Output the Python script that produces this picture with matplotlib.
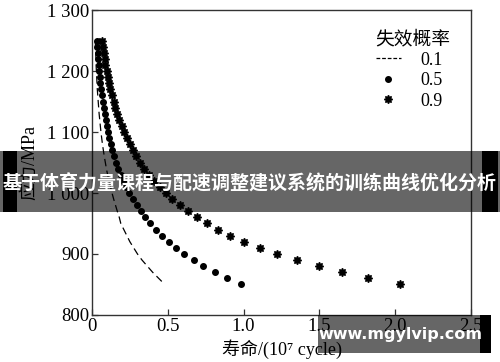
import matplotlib
matplotlib.use('Agg')
import matplotlib.pyplot as plt
from matplotlib.lines import Line2D
from matplotlib.patches import Rectangle

plt.rcParams['font.family'] = ['Liberation Serif', 'Noto Sans CJK SC']

# stress levels, MPa (1250 down to 850)
stress = [1250, 1240, 1230, 1220, 1210, 1200, 1190, 1180, 1170, 1160,
          1150, 1140, 1130, 1120, 1110, 1100, 1090, 1080, 1070, 1060,
          1050, 1040, 1030, 1020, 1010, 1000, 990, 980, 970, 960,
          950, 940, 930, 920, 910, 900, 890, 880, 870, 860, 850]

# life, 10^7 cycle, for failure probability 0.1 / 0.5 / 0.9
life_01 = [0.022, 0.023, 0.024, 0.026, 0.027, 0.029, 0.031, 0.033, 0.035, 0.038,
           0.041, 0.044, 0.047, 0.051, 0.055, 0.059, 0.064, 0.069, 0.075, 0.081,
           0.088, 0.095, 0.103, 0.112, 0.122, 0.132, 0.143, 0.155, 0.167, 0.180,
           0.190, 0.210, 0.230, 0.250, 0.275, 0.300, 0.330, 0.365, 0.400, 0.440, 0.480]
life_05 = [0.033, 0.036, 0.039, 0.042, 0.045, 0.048, 0.052, 0.056, 0.061, 0.066,
           0.071, 0.077, 0.083, 0.090, 0.097, 0.105, 0.114, 0.124, 0.135, 0.146,
           0.159, 0.173, 0.188, 0.205, 0.224, 0.245, 0.270, 0.295, 0.320, 0.350,
           0.382, 0.420, 0.460, 0.505, 0.555, 0.610, 0.670, 0.735, 0.810, 0.890, 0.980]
life_09 = [0.066, 0.071, 0.077, 0.083, 0.089, 0.096, 0.104, 0.112, 0.121, 0.131,
           0.142, 0.153, 0.166, 0.180, 0.195, 0.211, 0.229, 0.249, 0.270, 0.293,
           0.319, 0.346, 0.377, 0.410, 0.446, 0.486, 0.530, 0.580, 0.630, 0.690,
           0.760, 0.830, 0.910, 1.000, 1.110, 1.220, 1.350, 1.500, 1.650, 1.820, 2.030]

xticks = [0, 0.5, 1.0, 1.5, 2.0, 2.5]
xticklabels = ['0', '0.5', '1.0', '1.5', '2.0', '2.5']
yticks = [800, 900, 1000, 1100, 1200, 1300]
yticklabels = ['800', '900', '1 000', '1 100', '1 200', '1 300']

fig = plt.figure(figsize=(5, 3.62), dpi=100)
ax = fig.add_axes([0.184, 0.130, 0.758, 0.842])

ax.plot(life_01, stress, color='black', lw=0.9, ls=(0, (6, 3.5)))
ax.plot(life_05, stress, ls='none', marker='o', ms=4, color='black')
ax.plot(life_09, stress, ls='none', marker=(8, 1, 0), ms=6, color='black')

ax.set_xlim(0, 2.5)
ax.set_ylim(800, 1300)
ax.set_xticks(xticks)
ax.set_xticklabels(xticklabels)
ax.set_yticks(yticks)
ax.set_yticklabels(yticklabels)
ax.tick_params(direction='in', length=4, width=0.9, labelsize=13.5, color='#333333', pad=2)
for s in ax.spines.values():
    s.set_color('#333333')
    s.set_linewidth(1.0)

ax.set_xlabel('寿命/(10⁷ cycle)', fontsize=13, labelpad=3)
ax.set_ylabel('应力/MPa', fontsize=13, labelpad=6)

handles = [Line2D([], [], color='black', lw=0.9, ls=(0, (3, 1.5))),
           Line2D([], [], ls='none', marker='o', ms=4, color='black'),
           Line2D([], [], ls='none', marker=(8, 1, 0), ms=6, color='black')]
leg = ax.legend(handles, ['0.1', '0.5', '0.9'], title='失效概率', frameon=False,
                loc='upper left', bbox_to_anchor=(0.72, 0.97), fontsize=13,
                title_fontsize=13.5, handlelength=1.4, handletextpad=1.1,
                labelspacing=0.2, alignment='left', borderaxespad=0.2)

# overlay banner and watermark
fig.patches.append(Rectangle((0, 1 - 212 / 362), 1, 61 / 362, transform=fig.transFigure,
                             facecolor='black', alpha=0.6, edgecolor='none', zorder=10))
fig.patches.append(Rectangle((3 / 500, 1 - 212 / 362), 14 / 500, 61 / 362, transform=fig.transFigure,
                             facecolor='black', edgecolor='none', zorder=11))
fig.patches.append(Rectangle((482 / 500, 1 - 212 / 362), 16 / 500, 61 / 362, transform=fig.transFigure,
                             facecolor='black', edgecolor='none', zorder=11))
fig.text(0.5, 1 - 184 / 362, '基于体育力量课程与配速调整建议系统的训练曲线优化分析',
         family=['Noto Sans CJK SC'], fontweight='bold', fontsize=13.7, color='white',
         ha='center', va='center', zorder=12)

fig.patches.append(Rectangle((318 / 500, 1 - 353 / 362), 162 / 500, 38 / 362, transform=fig.transFigure,
                             facecolor='black', alpha=0.6, edgecolor='none', zorder=10))
fig.patches.append(Rectangle((480 / 500, 1 - 353 / 362), 11 / 500, 38 / 362, transform=fig.transFigure,
                             facecolor='black', edgecolor='none', zorder=11))
fig.text(400 / 500, 1 - 334 / 362, 'www.mgylvip.com', family=['DejaVu Sans'], fontweight='bold',
         fontsize=11.5, color='white', ha='center', va='center', zorder=12)

fig.savefig('out.png', dpi=100)
